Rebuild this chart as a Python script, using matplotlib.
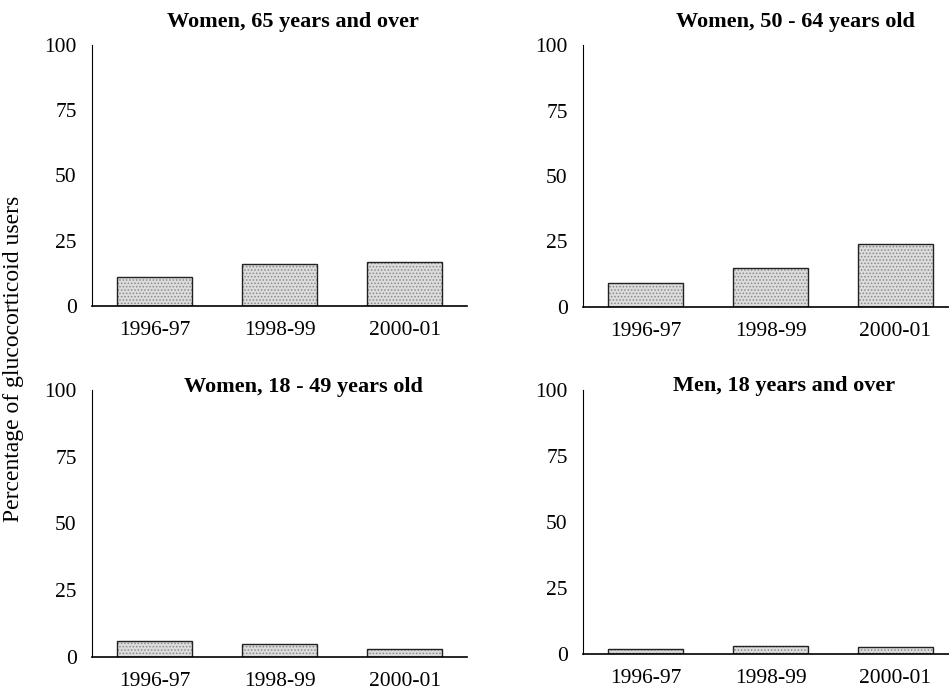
import matplotlib.pyplot as plt

periods = ["1996-97", "1998-99", "2000-01"]
titles = ["Women, 65 years and over", "Women, 50 - 64 years old",
          "Women, 18 - 49 years old", "Men, 18 years and over"]
women_65 = [11, 16, 17]
women_50_64 = [9, 15, 24]
women_18_49 = [6, 5, 3]
men_18 = [2, 3, 2.6]
series = [women_65, women_50_64, women_18_49, men_18]

plt.rcParams['font.family'] = ['Liberation Serif', 'DejaVu Serif']
plt.rcParams['hatch.linewidth'] = 0.7

fig = plt.figure(figsize=(9.49, 6.90), dpi=100)

# axes boxes in pixels: left, top(100), bottom(0)
boxes = [(92, 45, 306), (583, 45, 307), (92, 390, 657), (583, 390, 654)]
title_pos = [(293, 22), (795, 22), (303, 387), (784, 386)]

for vals, title, (left, top, bot), (tx, ty) in zip(series, titles, boxes, title_pos):
    ax = fig.add_axes([left / 949, 1 - bot / 690, 375 / 949, (bot - top) / 690])
    x = range(len(periods))
    ax.bar(x, vals, width=0.6, color='#dcdcdc', edgecolor='#8a8a8a',
           hatch='.....', linewidth=0)
    ax.bar(x, vals, width=0.6, fill=False, edgecolor='#222222', linewidth=1.0)
    ax.set_xlim(-0.5, 2.5)
    ax.set_ylim(0, 100)
    ax.set_yticks([0, 25, 50, 75, 100])
    ax.set_xticks(list(x))
    ax.set_xticklabels(periods)
    ax.tick_params(axis='x', length=0, pad=11, labelsize=15.5)
    ax.tick_params(axis='y', length=0, pad=11, labelsize=15.5)
    for s in ['top', 'right']:
        ax.spines[s].set_visible(False)
    ax.spines['left'].set_linewidth(0.8)
    ax.spines['bottom'].set_linewidth(1.2)
    fig.text(tx / 949, 1 - ty / 690, title, ha='center', va='center',
             fontsize=16, fontweight='bold')

fig.text(14 / 949, 1 - 359 / 690, "Percentage of glucocorticoid users",
         rotation=90, ha='center', va='center', fontsize=17)

fig.savefig("out.png", dpi=100)
